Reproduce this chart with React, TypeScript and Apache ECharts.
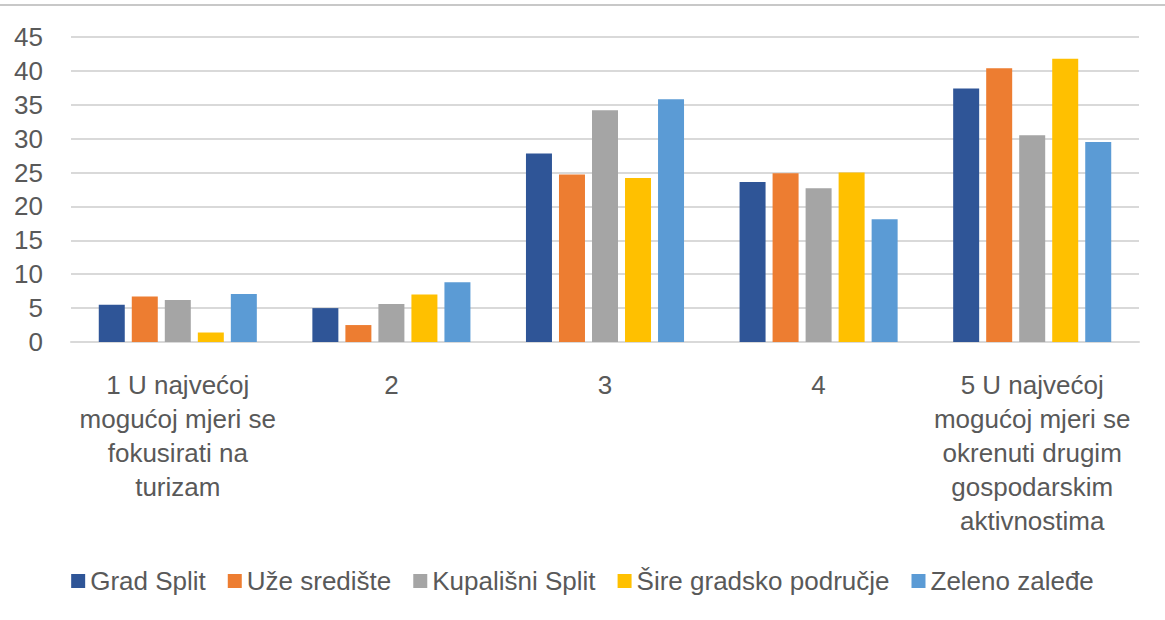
import React, { useEffect, useRef } from "react";
import * as echarts from "echarts";

const categories = [
  "1 U najvećoj\nmogućoj mjeri se\nfokusirati na\nturizam",
  "2",
  "3",
  "4",
  "5 U najvećoj\nmogućoj mjeri se\nokrenuti drugim\ngospodarskim\naktivnostima",
];
const seriesNames = ["Grad Split", "Uže središte", "Kupališni Split", "Šire gradsko područje", "Zeleno zaleđe"];
const gradSplit = [5.5, 5.0, 27.8, 23.6, 37.4];
const uzeSrediste = [6.7, 2.5, 24.7, 24.9, 40.4];
const kupalisniSplit = [6.2, 5.6, 34.2, 22.7, 30.5];
const sireGradsko = [1.4, 7.0, 24.2, 25.0, 41.8];
const zelenoZaledje = [7.1, 8.8, 35.8, 18.1, 29.5];
const yTicks = [0, 45, 5];
const colors = ["#2F5597", "#ED7D31", "#A5A5A5", "#FFC000", "#5B9BD5"];

const FONT = "'Liberation Sans', Arial, sans-serif";

export default function App() {
  const ref = useRef<HTMLDivElement>(null);
  useEffect(() => {
    if (!ref.current) return;
    const chart = echarts.init(ref.current, undefined, { renderer: "svg" });
    const data = [gradSplit, uzeSrediste, kupalisniSplit, sireGradsko, zelenoZaledje];
    chart.setOption({
      animation: false,
      textStyle: { fontFamily: FONT },
      grid: { left: 71, right: 26, top: 37, bottom: 278, containLabel: false },
      graphic: [
        {
          type: "line",
          shape: { x1: 0, y1: 5, x2: 1165, y2: 5 },
          style: { stroke: "#c8c8c8", lineWidth: 2 },
        },
      ],
      legend: {
        bottom: 21,
        left: "center",
        itemWidth: 14,
        itemHeight: 14,
        itemGap: 22,
        icon: "rect",
        textStyle: { fontSize: 26, color: "#595959", fontFamily: FONT },
        data: seriesNames,
      },
      xAxis: {
        type: "category",
        data: categories,
        axisLine: { lineStyle: { color: "#d9d9d9", width: 2 } },
        axisTick: { show: false },
        axisLabel: {
          interval: 0,
          color: "#595959",
          fontSize: 26,
          lineHeight: 34,
          margin: 26,
          fontFamily: FONT,
        },
      },
      yAxis: {
        type: "value",
        min: yTicks[0],
        max: yTicks[1],
        interval: yTicks[2],
        axisLine: { show: false },
        axisTick: { show: false },
        splitLine: { lineStyle: { color: "#d9d9d9", width: 2 } },
        axisLabel: { color: "#595959", fontSize: 26, margin: 28, fontFamily: FONT },
      },
      series: seriesNames.map((name, i) => ({
        name,
        type: "bar",
        data: data[i],
        barGap: "27%",
        barCategoryGap: "26%",
        itemStyle: { color: colors[i] },
      })),
    });
    return () => chart.dispose();
  }, []);
  return <div ref={ref} style={{ position: "absolute", left: 0, top: 0, width: 1165, height: 620 }} />;
}
